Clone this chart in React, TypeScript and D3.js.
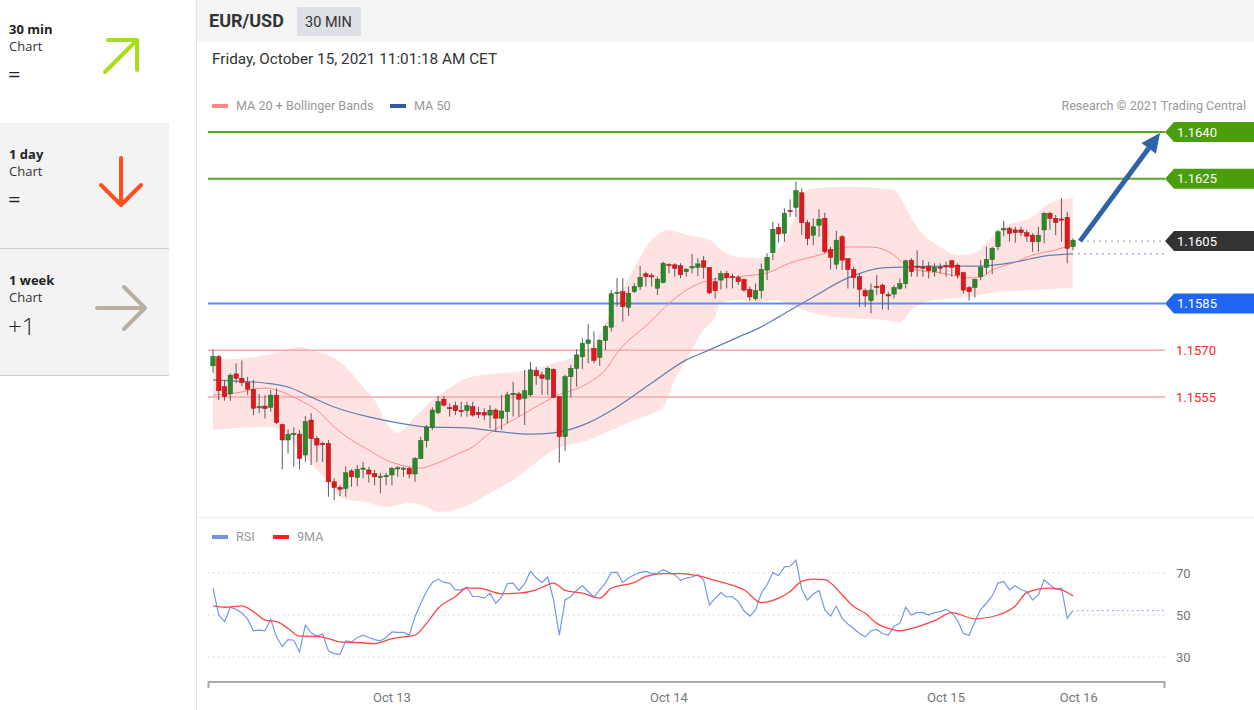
import React from "react";
import * as d3 from "d3";

// ---------- DATA ----------
const candleOpen = [
  1.15650,1.15679,1.15583,1.15560,1.15624,1.15610,1.15596,1.15575,1.15517,1.15521,
  1.15517,1.15556,1.15462,1.15412,1.15431,1.15431,1.15364,1.15476,1.15417,1.15401,
  1.15401,1.15278,1.15260,1.15257,1.15313,1.15292,1.15320,1.15316,1.15305,1.15294,
  1.15296,1.15300,1.15321,1.15320,1.15321,1.15303,1.15353,1.15410,1.15453,1.15500,
  1.15543,1.15516,1.15522,1.15507,1.15506,1.15519,1.15501,1.15500,1.15492,1.15508,
  1.15482,1.15503,1.15557,1.15560,1.15546,1.15557,1.15635,1.15621,1.15607,1.15639,
  1.15551,1.15423,1.15615,1.15642,1.15679,1.15722,1.15706,1.15677,1.15731,1.15774,
  1.15883,1.15888,1.15838,1.15888,1.15904,1.15945,1.15939,1.15899,1.15917,1.15975,
  1.15974,1.15971,1.15952,1.15966,1.15966,1.15987,1.15966,1.15920,1.15925,1.15946,
  1.15937,1.15933,1.15927,1.15895,1.15866,1.15891,1.15957,1.16013,1.16094,1.16075,
  1.16149,1.16158,1.16205,1.16109,1.16069,1.16101,1.16123,1.16023,1.15976,1.16064,
  1.15994,1.15959,1.15936,1.15891,1.15859,1.15905,1.15909,1.15878,1.15880,1.15898,
  1.15914,1.15989,1.15970,1.15967,1.15970,1.15952,1.15967,1.15971,1.15987,1.15973,
  1.15949,1.15901,1.15901,1.15936,1.15966,1.15991,1.16032,1.16086,1.16091,1.16086,
  1.16086,1.16077,1.16069,1.16048,1.16086,1.16139,1.16123,1.16121,1.16126,1.16032,
];
const candleHigh = [
  1.15702,1.15685,1.15605,1.15626,1.15658,1.15667,1.15615,1.15605,1.15560,1.15556,
  1.15572,1.15578,1.15465,1.15446,1.15453,1.15444,1.15489,1.15498,1.15425,1.15407,
  1.15412,1.15289,1.15267,1.15328,1.15318,1.15332,1.15342,1.15326,1.15316,1.15307,
  1.15307,1.15326,1.15328,1.15326,1.15326,1.15358,1.15423,1.15460,1.15517,1.15553,
  1.15553,1.15530,1.15535,1.15535,1.15535,1.15535,1.15519,1.15514,1.15524,1.15514,
  1.15557,1.15567,1.15599,1.15567,1.15637,1.15663,1.15647,1.15631,1.15647,1.15642,
  1.15553,1.15621,1.15653,1.15703,1.15738,1.15784,1.15760,1.15735,1.15781,1.15893,
  1.15931,1.15931,1.15904,1.15915,1.15971,1.15952,1.15947,1.15936,1.15984,1.15979,
  1.15979,1.15979,1.15963,1.16009,1.15995,1.16002,1.15966,1.15933,1.15955,1.15955,
  1.15946,1.15941,1.15930,1.15904,1.15914,1.15978,1.16011,1.16112,1.16107,1.16155,
  1.16184,1.16241,1.16219,1.16118,1.16123,1.16152,1.16141,1.16032,1.16083,1.16069,
  1.15994,1.15968,1.15946,1.15898,1.15914,1.15941,1.15914,1.15887,1.15909,1.15930,
  1.15991,1.15995,1.16021,1.15989,1.15984,1.15979,1.15979,1.15984,1.15989,1.15979,
  1.15952,1.15906,1.15930,1.15989,1.16032,1.16032,1.16086,1.16115,1.16096,1.16096,
  1.16096,1.16086,1.16075,1.16096,1.16144,1.16144,1.16134,1.16187,1.16144,1.16059,
];
const candleLow = [
  1.15628,1.15540,1.15538,1.15538,1.15594,1.15585,1.15556,1.15492,1.15498,1.15481,
  1.15503,1.15463,1.15318,1.15369,1.15326,1.15318,1.15342,1.15332,1.15342,1.15342,
  1.15230,1.15219,1.15232,1.15230,1.15262,1.15264,1.15289,1.15275,1.15267,1.15241,
  1.15267,1.15267,1.15294,1.15294,1.15289,1.15278,1.15350,1.15388,1.15444,1.15495,
  1.15519,1.15487,1.15492,1.15487,1.15487,1.15487,1.15482,1.15476,1.15450,1.15439,
  1.15444,1.15466,1.15487,1.15487,1.15460,1.15551,1.15589,1.15557,1.15557,1.15546,
  1.15339,1.15378,1.15549,1.15583,1.15639,1.15658,1.15658,1.15650,1.15701,1.15760,
  1.15840,1.15792,1.15810,1.15883,1.15893,1.15904,1.15904,1.15877,1.15915,1.15947,
  1.15936,1.15931,1.15936,1.15947,1.15938,1.15930,1.15880,1.15866,1.15895,1.15898,
  1.15898,1.15909,1.15887,1.15859,1.15859,1.15866,1.15925,1.15989,1.16045,1.16048,
  1.16128,1.16128,1.16069,1.16037,1.16037,1.16064,1.16011,1.15959,1.15959,1.15957,
  1.15898,1.15898,1.15839,1.15839,1.15818,1.15877,1.15831,1.15829,1.15866,1.15893,
  1.15898,1.15936,1.15936,1.15936,1.15930,1.15936,1.15946,1.15936,1.15936,1.15930,
  1.15882,1.15859,1.15869,1.15925,1.15944,1.15944,1.16021,1.16066,1.16048,1.16045,
  1.16066,1.16048,1.16016,1.16016,1.16043,1.16086,1.16069,1.16048,1.15979,1.16021,
];
const candleClose = [
  1.15680,1.15570,1.15551,1.15620,1.15610,1.15596,1.15575,1.15514,1.15519,1.15513,
  1.15556,1.15468,1.15412,1.15431,1.15433,1.15353,1.15471,1.15417,1.15396,1.15399,
  1.15278,1.15260,1.15254,1.15307,1.15294,1.15318,1.15322,1.15303,1.15294,1.15296,
  1.15298,1.15321,1.15323,1.15322,1.15303,1.15353,1.15410,1.15453,1.15508,1.15535,
  1.15524,1.15514,1.15506,1.15505,1.15522,1.15492,1.15494,1.15492,1.15508,1.15482,
  1.15505,1.15557,1.15562,1.15543,1.15570,1.15637,1.15618,1.15610,1.15642,1.15549,
  1.15423,1.15615,1.15642,1.15685,1.15722,1.15733,1.15667,1.15731,1.15776,1.15881,
  1.15886,1.15840,1.15883,1.15904,1.15934,1.15936,1.15937,1.15928,1.15979,1.15973,
  1.15963,1.15942,1.15960,1.15968,1.15977,1.15966,1.15884,1.15891,1.15946,1.15933,
  1.15935,1.15920,1.15893,1.15871,1.15891,1.15959,1.15998,1.16088,1.16073,1.16139,
  1.16146,1.16212,1.16109,1.16059,1.16096,1.16120,1.16016,1.15998,1.16053,1.15989,
  1.15959,1.15933,1.15895,1.15874,1.15893,1.15902,1.15882,1.15876,1.15901,1.15914,
  1.15987,1.15952,1.15966,1.15965,1.15955,1.15966,1.15965,1.15969,1.15966,1.15941,
  1.15893,1.15888,1.15927,1.15966,1.15991,1.16027,1.16080,1.16090,1.16075,1.16077,
  1.16077,1.16066,1.16048,1.16069,1.16139,1.16123,1.16109,1.16119,1.16027,1.16053,
];

// Bollinger bands / moving averages: [candle index, price]
const bbUpper = [
  [0,1.15669],[6,1.15675],[11,1.15691],[15,1.15710],[17,1.15701],[21,1.15675],[23,1.15646],
  [26,1.15582],[28,1.15540],[30,1.15467],[32,1.15435],[35,1.15486],[38,1.15540],[41,1.15579],
  [44,1.15611],[50,1.15627],[55,1.15637],[59,1.15659],[65,1.15701],[70,1.15861],[73,1.15964],
  [76,1.16054],[79,1.16086],[82,1.16070],[86,1.16054],[88,1.16022],[91,1.15999],[95,1.15996],
  [98,1.16022],[101,1.16134],[103,1.16214],[105,1.16220],[110,1.16224],[118,1.16214],
  [120,1.16159],[122,1.16095],[126,1.16031],[129,1.16005],[132,1.16012],[134,1.16044],
  [137,1.16095],[142,1.16127],[145,1.16172],[149,1.16188],
];
const bbLower = [
  [0,1.15444],[9,1.15454],[12,1.15444],[15,1.15380],[20,1.15274],[22,1.15229],[27,1.15210],
  [30,1.15197],[34,1.15210],[37,1.15197],[39,1.15181],[42,1.15188],[45,1.15210],[48,1.15242],
  [52,1.15284],[55,1.15326],[59,1.15380],[65,1.15412],[68,1.15435],[73,1.15476],[78,1.15518],
  [80,1.15605],[82,1.15669],[85,1.15765],[87,1.15807],[88,1.15852],[91,1.15861],[94,1.15852],
  [97,1.15861],[104,1.15819],[110,1.15803],[116,1.15797],[119,1.15791],[121,1.15829],
  [125,1.15861],[131,1.15871],[135,1.15884],[142,1.15893],[149,1.15900],
];
const ma20 = [
  [0,1.15556],[4,1.15563],[9,1.15579],[11,1.15572],[15,1.15540],[18,1.15508],[21,1.15454],
  [24,1.15412],[27,1.15380],[30,1.15348],[34,1.15326],[36,1.15322],[38,1.15332],[42,1.15364],
  [45,1.15390],[48,1.15435],[52,1.15476],[55,1.15508],[59,1.15550],[65,1.15595],[68,1.15637],
  [70,1.15691],[76,1.15795],[79,1.15850],[82,1.15893],[86,1.15925],[89,1.15932],[92,1.15938],
  [96,1.15948],[100,1.15980],[105,1.16005],[110,1.16031],[114,1.16031],[118,1.16005],
  [120,1.15973],[122,1.15957],[126,1.15948],[131,1.15932],[133,1.15935],[135,1.15957],
  [139,1.15983],[142,1.16005],[146,1.16022],[149,1.16038],
];
const ma50 = [
  [0,1.15605],[4,1.15601],[9,1.15595],[13,1.15582],[17,1.15550],[21,1.15518],[27,1.15486],
  [32,1.15467],[37,1.15454],[44,1.15451],[50,1.15438],[55,1.15431],[59,1.15435],[65,1.15467],
  [70,1.15518],[76,1.15595],[82,1.15669],[86,1.15701],[91,1.15742],[95,1.15775],[98,1.15807],
  [104,1.15871],[110,1.15932],[116,1.15964],[120,1.15967],[127,1.15970],[133,1.15970],
  [139,1.15983],[144,1.16002],[149,1.16009],
];

const rsiValues = [
  62.8,50,46.8,53.7,52.7,51,48,42.5,42.8,42.5,
  48,39.6,35,38.3,38,32.4,45.2,41.5,40,40.9,
  32.9,31.6,31.3,37.7,37.2,39.3,40.4,39.3,38.3,37.7,
  39.3,42,41.7,41.7,40.4,49.2,55.6,61.2,65.5,67.1,
  65.5,65.2,62,62,63.3,58.8,58.8,58,60.4,55.6,
  58.5,64.9,65.2,61.7,64.9,70.8,67.6,65.5,68.1,57.2,
  40.4,57.2,58.8,61.7,63.9,61.2,58.5,62,65.2,70.3,
  70.3,65.5,67.6,69.2,70.3,70.8,69.7,70,71.6,70.3,
  69.2,66.5,67.6,68.1,69.2,66.8,54.8,58,60.7,58.5,
  58.8,56.4,52,49.5,52.4,60.4,64.4,70.3,68.7,72.9,
  73.2,76.1,62.3,57.2,60,61.7,52.4,49.5,54.3,48.4,
  45.7,43.6,41.2,39.6,42.5,43.1,41.2,40.4,44.7,46,
  53.7,50,51.1,51.1,50,51.1,51.6,52.7,51.1,47.3,
  41.2,40.4,46.8,52.7,55.6,59.1,65.2,66,62,63.9,
  62,61.2,57.2,59.6,66.8,64.4,62.3,62.8,48.4,52.1,
];
const rsiMa9 = [
  [0,54.3],[2,53.7],[5,54.3],[7,51.6],[9,47.6],[11,46.8],[13,43.6],[15,39.9],[17,39.9],
  [20,38.8],[22,37.2],[25,36.9],[28,36.4],[31,38.8],[35,40.4],[37,46],[39,53.2],[42,58.8],
  [44,62.8],[46,62.8],[50,60.1],[53,60.4],[56,62],[58,64.4],[59,65.2],[61,61.7],[64,60.4],
  [67,58],[69,62.8],[73,65.5],[75,68.4],[78,69.7],[81,69.7],[84,68.7],[87,66.5],[89,65],
  [92,62],[95,55.9],[98,58],[100,61.2],[102,66],[104,67.1],[106,66.8],[109,59.6],[111,54],
  [113,50.8],[115,46],[117,43.6],[119,42.5],[122,44.4],[125,47.3],[128,51.1],[132,48.2],
  [136,50],[139,54.3],[141,60.7],[145,62.8],[147,62],[149,59.1],
];

const resistanceLevels = [1.1640, 1.1625];
const pivotLevel = 1.1585;
const supportLevels = [1.1570, 1.1555];
const lastPrice = 1.1605;
const rsiTicks = [70, 50, 30];
const axisIdx = [31, 79, 127, 150];
const axisLabels = ["Oct 13", "Oct 14", "Oct 15", "Oct 16"];

// ---------- COMPONENT ----------
export default function App() {
  const x = d3.scaleLinear().domain([0, 149]).range([213, 1073]);
  const y = d3.scaleLinear().domain([1.1555, 1.164]).range([397, 132]);
  const yr = d3.scaleLinear().domain([30, 70]).range([657, 573]);

  const lineP = d3
    .line<number[]>()
    .x((d) => x(d[0]))
    .y((d) => y(d[1]))
    .curve(d3.curveMonotoneX);
  const upperPath = lineP(bbUpper as number[][]) || "";
  const lowerRev = lineP(bbLower.slice().reverse() as number[][]) || "";
  const bandPath = upperPath + "L" + lowerRev.slice(1) + "Z";

  const rsiLine = d3
    .line<number>()
    .x((d, i) => x(i))
    .y((d) => yr(d));
  const rsiMaLine = d3
    .line<number[]>()
    .x((d) => x(d[0]))
    .y((d) => yr(d[1]))
    .curve(d3.curveMonotoneX);

  const font = "Roboto, 'Liberation Sans', Arial, sans-serif";
  const leftFont = "'Open Sans', Lato, sans-serif";

  const tag = (yy: number, color: string, label: string) => (
    <g key={label}>
      <polygon
        points={`1165,${yy} 1174,${yy - 10} 1254,${yy - 10} 1254,${yy + 10} 1174,${yy + 10}`}
        fill={color}
      />
      <text x={1177} y={yy + 4.5} fill="#fff" fontSize={13} fontFamily={font}>
        {label}
      </text>
    </g>
  );

  const lastX = x(149);
  const arrowStart: [number, number] = [lastX + 7, y(lastPrice)];
  const arrowEnd: [number, number] = [1160, y(1.164) + 1];
  const ang = Math.atan2(arrowEnd[1] - arrowStart[1], arrowEnd[0] - arrowStart[0]);
  const headLen = 19;
  const headW = 9;
  const bx = arrowEnd[0] - headLen * Math.cos(ang);
  const by = arrowEnd[1] - headLen * Math.sin(ang);
  const head = [
    [arrowEnd[0], arrowEnd[1]],
    [bx + headW * Math.sin(ang), by - headW * Math.cos(ang)],
    [bx - headW * Math.sin(ang), by + headW * Math.cos(ang)],
  ]
    .map((p) => p.join(","))
    .join(" ");

  return (
    <svg
      width={1254}
      height={710}
      style={{ position: "absolute", left: 0, top: 0, background: "#fff" }}
    >
      {/* ---------- left panel ---------- */}
      <rect x={0} y={0} width={169} height={123} fill="#fff" />
      <rect x={0} y={123} width={169} height={252} fill="#f3f3f3" />
      <line x1={0} x2={169} y1={248.5} y2={248.5} stroke="#d0d0d0" />
      <line x1={0} x2={169} y1={375.5} y2={375.5} stroke="#d0d0d0" />

      <g fontFamily={leftFont} fill="#222">
        <text x={9} y={34} fontSize={13} fontWeight={700}>30 min</text>
        <text x={9} y={51} fontSize={13} fill="#333">Chart</text>
        <text x={8} y={82} fontSize={22}>=</text>

        <text x={9} y={159} fontSize={13} fontWeight={700}>1 day</text>
        <text x={9} y={176} fontSize={13} fill="#333">Chart</text>
        <text x={8} y={207} fontSize={22}>=</text>

        <text x={9} y={285} fontSize={13} fontWeight={700}>1 week</text>
        <text x={9} y={302} fontSize={13} fill="#333">Chart</text>
        <text x={8} y={335} fontSize={24} fontWeight={300}>+1</text>
      </g>
      <g fill="none" strokeLinecap="round" strokeLinejoin="round" strokeWidth={4}>
        <path d="M105,72 L137,40 M108,40 L137,40 L137,70" stroke="#a6df1a" />
        <path d="M121,158 L121,205 M101,185 L121,205 L141,185" stroke="#ff4f1f" />
        <path d="M97,308 L145,308 M124,287 L145,308 L124,329" stroke="#b8aea3" />
      </g>

      {/* ---------- main panel frame ---------- */}
      <rect x={196} y={0} width={1058} height={42} fill="#f5f5f5" />
      <line x1={196.5} x2={196.5} y1={0} y2={710} stroke="#e3e3e3" />
      <line x1={197} x2={1254} y1={517.5} y2={517.5} stroke="#ececec" />

      <text x={209} y={27} fontSize={18} fontWeight={700} fill="#333" fontFamily={font}>
        EUR/USD
      </text>
      <rect x={297} y={7} width={64} height={29} fill="#dde0e5" />
      <text x={305} y={27} fontSize={14.5} fill="#333" fontFamily={font}>
        30 MIN
      </text>
      <text x={212} y={64} fontSize={15.3} fill="#333" fontFamily={font}>
        Friday, October 15, 2021 11:01:18 AM CET
      </text>

      {/* legend */}
      <rect x={212} y={104} width={16} height={4} fill="#ff8585" />
      <text x={236} y={110} fontSize={12.6} fill="#999" fontFamily={font}>
        MA 20 + Bollinger Bands
      </text>
      <rect x={390} y={104} width={16} height={4} fill="#2f5a9e" />
      <text x={414} y={110} fontSize={12.6} fill="#999" fontFamily={font}>
        MA 50
      </text>
      <text x={1246} y={110} fontSize={12.6} fill="#999" textAnchor="end" fontFamily={font}>
        Research © 2021 Trading Central
      </text>

      {/* Bollinger band */}
      <path d={bandPath} fill="#ffe2e2" />

      {/* level lines */}
      {resistanceLevels.map((v) => (
        <line key={v} x1={208} x2={1165} y1={y(v)} y2={y(v)} stroke="#5aa81c" strokeWidth={2} />
      ))}
      <line x1={208} x2={1165} y1={y(pivotLevel)} y2={y(pivotLevel)} stroke="#5b8ef5" strokeWidth={2} />
      {supportLevels.map((v) => (
        <line key={v} x1={208} x2={1165} y1={y(v)} y2={y(v)} stroke="#f8a9a9" strokeWidth={1.5} />
      ))}

      {/* moving averages */}
      <path d={lineP(ma20 as number[][]) || ""} fill="none" stroke="#ff8a8a" strokeWidth={1} />
      <path d={lineP(ma50 as number[][]) || ""} fill="none" stroke="#5f7fb6" strokeWidth={1.2} />

      {/* candles */}
      {candleClose.map((c, i) => {
        const o = candleOpen[i];
        const up = c >= o;
        const cx = x(i);
        const top = y(Math.max(o, c));
        const bot = y(Math.min(o, c));
        return (
          <g key={i}>
            <line
              x1={cx}
              x2={cx}
              y1={y(candleHigh[i])}
              y2={y(candleLow[i])}
              stroke="#5c5c5c"
              strokeWidth={1}
            />
            <rect
              x={cx - 2.2}
              y={top}
              width={4.4}
              height={Math.max(1.2, bot - top)}
              fill={up ? "#2a8a2a" : "#e3161b"}
              stroke={up ? "#1d5e1d" : "#a01010"}
              strokeWidth={0.5}
            />
          </g>
        );
      })}

      {/* last price guides */}
      <line x1={lastX + 8} x2={1165} y1={y(lastPrice)} y2={y(lastPrice)} stroke="#999" strokeDasharray="2,4" />
      <line
        x1={lastX + 5}
        x2={1165}
        y1={y(ma50[ma50.length - 1][1])}
        y2={y(ma50[ma50.length - 1][1])}
        stroke="#6f8fc0"
        strokeDasharray="2,4"
      />

      {/* projection arrow */}
      <line
        x1={arrowStart[0]}
        y1={arrowStart[1]}
        x2={bx}
        y2={by}
        stroke="#2e63a8"
        strokeWidth={5}
      />
      <polygon points={head} fill="#2e63a8" />

      {/* tags */}
      {tag(y(1.164), "#4a9e0b", "1.1640")}
      {tag(y(1.1625), "#4a9e0b", "1.1625")}
      {tag(y(lastPrice), "#333333", "1.1605")}
      {tag(y(pivotLevel), "#1f66f5", "1.1585")}
      {supportLevels.map((v) => (
        <text key={v} x={1176} y={y(v) + 4.5} fontSize={13} fill="#ff2626" fontFamily={font}>
          {v.toFixed(4)}
        </text>
      ))}

      {/* ---------- RSI panel ---------- */}
      <rect x={212} y={535} width={16} height={4} fill="#6f95ea" />
      <text x={236} y={541} fontSize={12.6} fill="#999" fontFamily={font}>RSI</text>
      <rect x={273} y={535} width={16} height={4} fill="#ff1f1f" />
      <text x={297} y={541} fontSize={12.6} fill="#999" fontFamily={font}>9MA</text>

      {rsiTicks.map((t) => (
        <g key={t}>
          <line x1={208} x2={1165} y1={yr(t)} y2={yr(t)} stroke="#cfcfcf" strokeDasharray="1.5,3.5" />
          <text x={1176} y={yr(t) + 4.5} fontSize={13} fill="#777" fontFamily={font}>
            {t}
          </text>
        </g>
      ))}
      <path d={rsiLine(rsiValues) || ""} fill="none" stroke="#7597ec" strokeWidth={1.2} />
      <path d={rsiMaLine(rsiMa9 as number[][]) || ""} fill="none" stroke="#ff4444" strokeWidth={1.3} />
      <line
        x1={lastX + 4}
        x2={1165}
        y1={yr(rsiValues[rsiValues.length - 1])}
        y2={yr(rsiValues[rsiValues.length - 1])}
        stroke="#7597ec"
        strokeDasharray="1.5,3.5"
      />

      {/* x axis */}
      <path d="M208.5,688 L208.5,682 L1164.5,682 L1164.5,688" fill="none" stroke="#aaa" strokeWidth={2} />
      {axisIdx.map((idx, k) => (
        <text
          key={idx}
          x={x(idx)}
          y={702}
          fontSize={13}
          fill="#777"
          textAnchor="middle"
          fontFamily={font}
        >
          {axisLabels[k]}
        </text>
      ))}
    </svg>
  );
}
